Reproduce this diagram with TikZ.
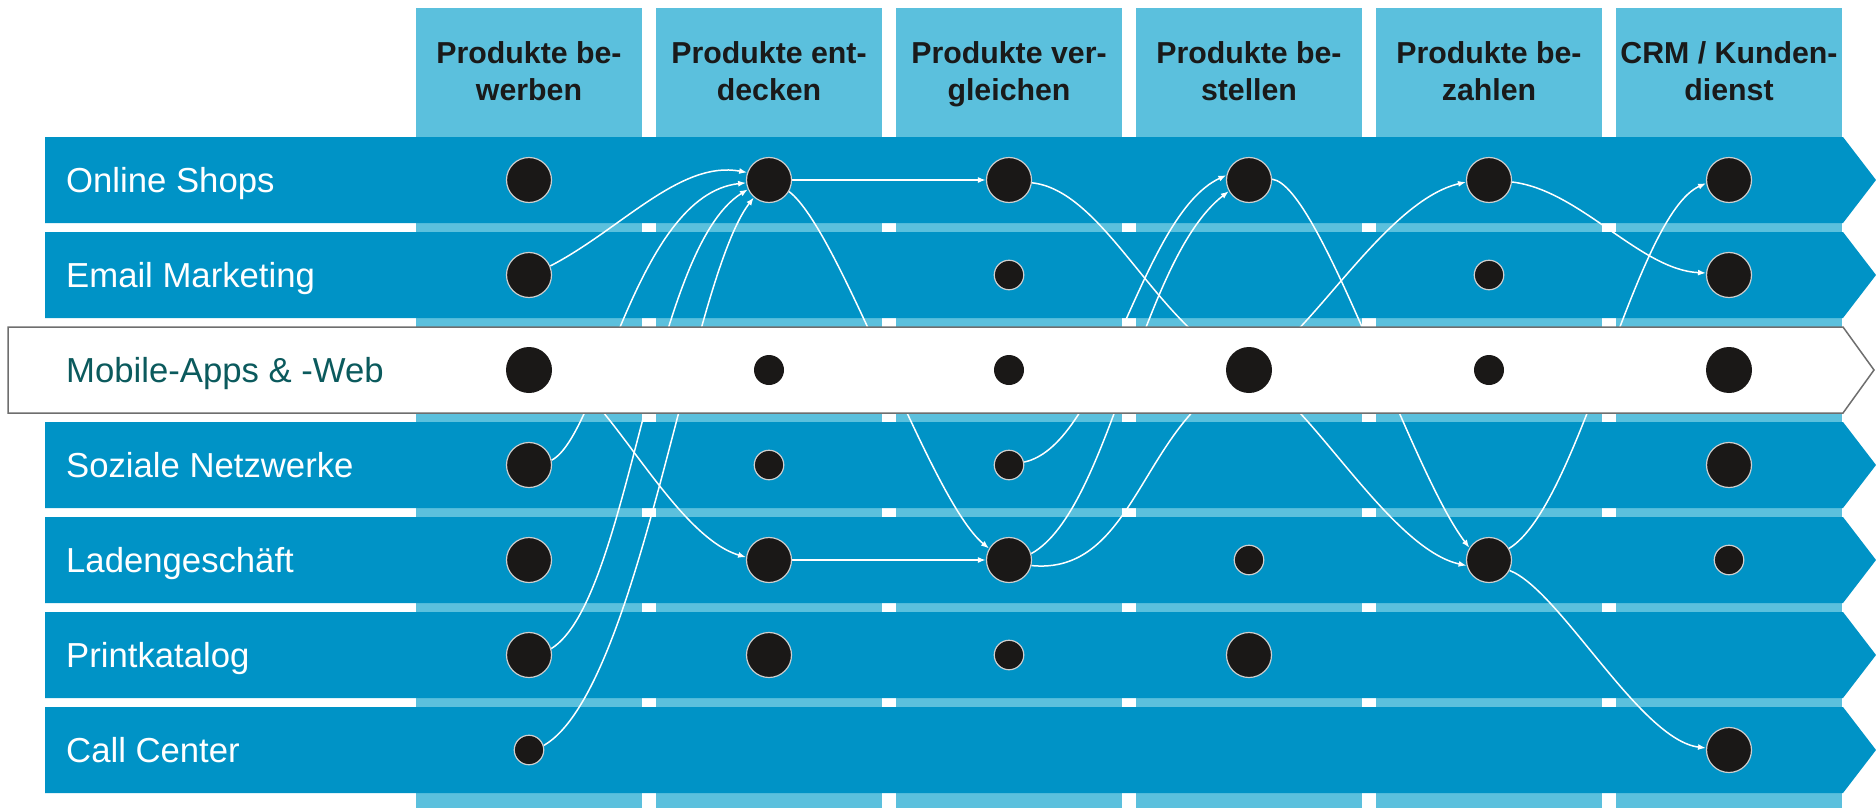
\documentclass[tikz,border=0pt]{standalone}
\usepackage{fontspec}
\setmainfont{Liberation Sans}
\usetikzlibrary{arrows.meta}
\definecolor{rowblue}{HTML}{0093C6}
\definecolor{colblue}{HTML}{5BC0DD}
\definecolor{dotblack}{HTML}{1A1817}
\definecolor{dotrim}{HTML}{CFCFCF}
\definecolor{mobtext}{HTML}{0B5A5D}
\definecolor{mobframe}{HTML}{6E6E6E}
\definecolor{hdrtext}{HTML}{1A1A1A}
\pgfdeclarelayer{background}
\pgfdeclarelayer{links}
\pgfdeclarelayer{overlay}
\pgfsetlayers{background,links,overlay,main}
\begin{document}
\begin{tikzpicture}[x=1pt,y=-1pt,
  big/.style={circle,fill=dotblack,draw=dotrim,line width=1.2pt,minimum size=45pt,inner sep=0pt},
  small/.style={circle,fill=dotblack,draw=dotrim,line width=1.2pt,minimum size=29.5pt,inner sep=0pt},
  mbig/.style={circle,fill=dotblack,draw=none,minimum size=46pt,inner sep=0pt},
  msmall/.style={circle,fill=dotblack,draw=none,minimum size=30pt,inner sep=0pt},
  conn/.style={draw=white,line width=1.5pt,-{Latex[length=8pt,width=6pt]}},
  hdr/.style={font=\bfseries\fontsize{30.3}{37}\selectfont,text=hdrtext,align=center,anchor=base,inner sep=0pt},
  lbl/.style={font=\fontsize{34.7}{40}\selectfont,text=white,anchor=base west,inner sep=0pt},
]
\useasboundingbox (0,0) rectangle (1876,808);

\begin{pgfonlayer}{background}
  \foreach \i in {0,...,5} {
    \fill[colblue] ({416+240*\i},8) rectangle ({642+240*\i},808);
  }
  \foreach \k in {0,1,3,4,5,6} {
    \pgfmathsetmacro\tp{137+95*\k}
    \fill[rowblue] (45,\tp) -- (1843,\tp) -- (1876,{\tp+43}) -- (1843,{\tp+86}) -- (45,{\tp+86}) -- cycle;
  }
\end{pgfonlayer}

\begin{pgfonlayer}{overlay}
  \filldraw[fill=white,draw=mobframe,line width=1.5pt] (8,327) -- (1843,327) -- (1874,370) -- (1843,413) -- (8,413) -- cycle;
\end{pgfonlayer}

% headers (anchor base = baseline of the last line)
\node[hdr] (h1) at (529,100) {Produkte be-\\werben};
\node[hdr] (h2) at (769,100) {Produkte ent-\\decken};
\node[hdr] (h3) at (1009,100) {Produkte ver-\\gleichen};
\node[hdr] (h4) at (1249,100) {Produkte be-\\stellen};
\node[hdr] (h5) at (1489,100) {Produkte be-\\zahlen};
\node[hdr] (h6) at (1729,100) {CRM / Kunden-\\dienst};

% row labels
\node[lbl] (t1) at (66,192.5) {Online Shops};
\node[lbl] (t2) at (66,287.5) {Email Marketing};
\node[lbl,text=mobtext] (t3) at (66,382.5) {Mobile-Apps \& -Web};
\node[lbl] (t4) at (66,477.5) {Soziale Netzwerke};
\node[lbl] (t5) at (66,572.5) {Ladengeschäft};
\node[lbl] (t6) at (66,667.5) {Printkatalog};
\node[lbl] (t7) at (66,762.5) {Call Center};

% Online Shops
\node[big] (o1) at (529,180) {};
\node[big] (o2) at (769,180) {};
\node[big] (o3) at (1009,180) {};
\node[big] (o4) at (1249,180) {};
\node[big] (o5) at (1489,180) {};
\node[big] (o6) at (1729,180) {};
% Email Marketing
\node[big] (e1) at (529,275) {};
\node[small] (e3) at (1009,275) {};
\node[small] (e5) at (1489,275) {};
\node[big] (e6) at (1729,275) {};
% Mobile
\node[mbig] (m1) at (529,370) {};
\node[msmall] (m2) at (769,370) {};
\node[msmall] (m3) at (1009,370) {};
\node[mbig] (m4) at (1249,370) {};
\node[msmall] (m5) at (1489,370) {};
\node[mbig] (m6) at (1729,370) {};
% Soziale Netzwerke
\node[big] (s1) at (529,465) {};
\node[small] (s2) at (769,465) {};
\node[small] (s3) at (1009,465) {};
\node[big] (s6) at (1729,465) {};
% Ladengeschaeft
\node[big] (l1) at (529,560) {};
\node[big] (l2) at (769,560) {};
\node[big] (l3) at (1009,560) {};
\node[small] (l4) at (1249,560) {};
\node[big] (l5) at (1489,560) {};
\node[small] (l6) at (1729,560) {};
% Printkatalog
\node[big] (p1) at (529,655) {};
\node[big] (p2) at (769,655) {};
\node[small] (p3) at (1009,655) {};
\node[big] (p4) at (1249,655) {};
% Call Center
\node[small] (c1) at (529,750) {};
\node[big] (c6) at (1729,750) {};

\begin{pgfonlayer}{links}
  \draw[conn] (e1.23) .. controls (620,230) and (680,160) .. (o2.161);
  \draw[conn] (s1.12) .. controls (600,435) and (635,195) .. (o2.187);
  \draw[conn] (p1.16) .. controls (630,600) and (650,250) .. (o2.204);
  \draw[conn] (c1.17) .. controls (640,690) and (690,280) .. (o2.229);
  \draw[conn] (o2) -- (o3);
  \draw[conn] (o2.-30) .. controls (840,230) and (930,500) .. (l3.150);
  \draw[conn] (m1.-5) .. controls (600,375) and (670,535) .. (l2.173);
  \draw[conn] (l2) -- (l3);
  \draw[conn] (s3.11) .. controls (1105,445) and (1140,215) .. (o4.168);
  \draw[conn] (l3.16) .. controls (1110,510) and (1140,260) .. (o4.209);
  \draw[conn] (o3.-7) .. controls (1100,190) and (1150,310) .. (m4.150);
  \draw[conn] (l3.-14) .. controls (1130,575) and (1140,440) .. (m4.210);
  \draw[conn] (m4.35) .. controls (1320,320) and (1390,200) .. (o5.185);
  \draw[conn] (m4.-35) .. controls (1320,420) and (1395,550) .. (l5.194);
  \draw[conn] (o4.2) .. controls (1320,185) and (1410,470) .. (l5.148);
  \draw[conn] (l5.30) .. controls (1580,505) and (1635,215) .. (o6.188);
  \draw[conn] (o5.-5) .. controls (1580,190) and (1640,270) .. (e6.175);
  \draw[conn] (l5.-27) .. controls (1560,590) and (1640,740) .. (c6.175);
\end{pgfonlayer}
\end{tikzpicture}
\end{document}
